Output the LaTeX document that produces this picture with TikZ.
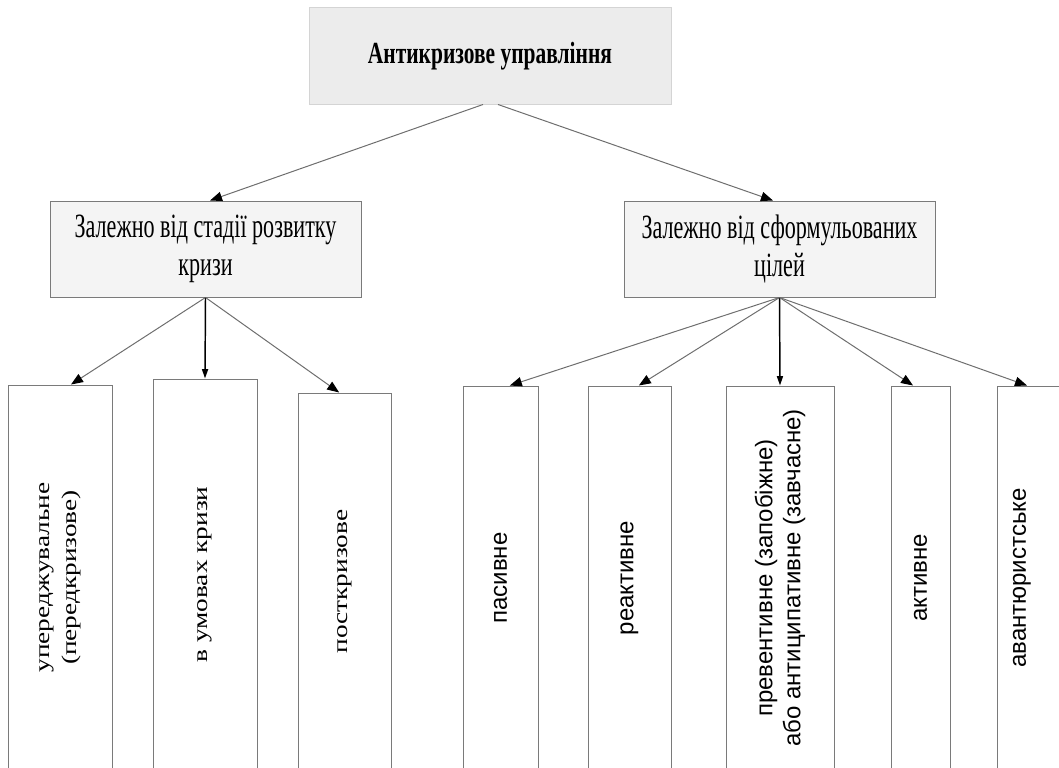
\documentclass[tikz,border=0pt]{standalone}
\usepackage{fontspec}
\setmainfont{Liberation Serif}
\setsansfont{Liberation Sans}
\newfontfamily\condserif{Liberation Serif}[FakeStretch=0.65]
\newfontfamily\titleserif{Liberation Serif}[FakeStretch=0.7]
\newfontfamily\tallserif{Liberation Serif}[FakeStretch=1.3]
\usetikzlibrary{arrows.meta}

\definecolor{boxline}{HTML}{7A7A7A}
\definecolor{topfill}{HTML}{ECECEC}
\definecolor{topline}{HTML}{D4D4D4}
\definecolor{midfill}{HTML}{F4F4F4}
\definecolor{arrline}{HTML}{6E6E6E}

\tikzset{every picture/.style={line width=0.75pt}}
\tikzset{
	topbox/.style={draw=topline, fill=topfill, minimum width=271.5pt, minimum height=72pt, inner sep=0pt,
		font=\titleserif\bfseries\fontsize{23}{27}\selectfont},
	midbox/.style={draw=boxline, fill=midfill, minimum width=233.25pt, minimum height=72pt, inner sep=0pt,
		align=center, font=\condserif\fontsize{25.5}{29}\selectfont},
	leafbox/.style={draw=boxline, fill=white, inner sep=0pt},
	leaftext/.style={rotate=90, align=center, inner sep=0pt, font=\tallserif\fontsize{15.75}{20}\selectfont},
	leafsans/.style={rotate=90, align=center, inner sep=0pt, font=\sffamily\fontsize{18}{21}\selectfont},
	arr/.style={draw=arrline, -{Triangle[length=9pt,width=7pt,color=black]}},
	vertarr/.style={draw=black, line width=1.1pt, -{Triangle[length=7pt,width=4.5pt,color=black]}}
}

\begin{document}
\begin{tikzpicture}[x=0.75pt,y=0.75pt,yscale=-1,xscale=1]
	\useasboundingbox (0,0) rectangle (1059,767);

	%Shape: Rectangle [top]
	\node[topbox] (top) at (490,56) {Антикризове управління};

	%Shape: Rectangle [middle]
	\node[midbox] (stage) at (205.5,249) {Залежно від стадії розвитку\\кризи};
	\node[midbox] (goals) at (779.5,249) {Залежно від сформульованих\\цілей};

	%Shape: Rectangle [by stage]
	\node[leafbox, minimum width=78pt, minimum height=288.75pt] (pre) at (60,577.5) {};
	\node[leafbox, minimum width=78pt, minimum height=293.25pt] (crisis) at (205,574.5) {};
	\node[leafbox, minimum width=69.75pt, minimum height=282.75pt] (post) at (344.5,581.5) {};

	%Shape: Rectangle [by goals]
	\node[leafbox, minimum width=56.25pt, minimum height=288pt] (passive) at (500.5,578) {};
	\node[leafbox, minimum width=62.25pt, minimum height=288pt] (reactive) at (629.5,578) {};
	\node[leafbox, minimum width=81pt, minimum height=288pt] (prevent) at (780,578) {};
	\node[leafbox, minimum width=44.25pt, minimum height=288pt] (active) at (920.5,578) {};
	\node[leafbox, minimum width=58.5pt, minimum height=288pt] (venture) at (1036,578) {};

	% Text Node
	\node[leaftext] (preT) at (pre) {упереджувальне\\(передкризове)};
	\node[leaftext] (crisisT) at (crisis) {в умовах кризи};
	\node[leaftext] (postT) at (post) {посткризове};
	\node[leafsans] (passiveT) at (passive) {пасивне};
	\node[leafsans] (reactiveT) at (reactive) {реактивне};
	\node[leafsans] (preventT) at (prevent) {превентивне (запобіжне)\\або антиципативне (завчасне)};
	\node[leafsans] (activeT) at (active) {активне};
	\node[leafsans] (ventureT) at ([xshift=-10.5pt]venture.center) {авантюристське};

	%Straight Lines
	\draw[arr] ([xshift=-5.25pt]top.south) -- ([xshift=3.4pt]stage.north);
	\draw[arr] ([xshift=6pt]top.south) -- ([xshift=-4.9pt]goals.north);

	\draw[arr] (stage.south) -- ([xshift=8.25pt]pre.north);
	\draw[vertarr] (stage.south) -- (crisis.north);
	\draw[arr] (stage.south) -- ([xshift=-4pt]post.north);

	\draw[arr] (goals.south) -- ([xshift=7pt]passive.north);
	\draw[arr] (goals.south) -- ([xshift=7pt]reactive.north);
	\draw[vertarr] (goals.south) -- (prevent.north);
	\draw[arr] (goals.south) -- ([xshift=-5.6pt]active.north);
	\draw[arr] (goals.south) -- ([xshift=-6.75pt]venture.north);

\end{tikzpicture}
\end{document}
